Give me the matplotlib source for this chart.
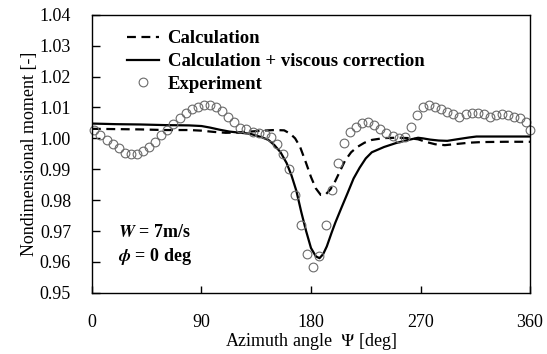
import numpy as np
import matplotlib
matplotlib.use("Agg")
import matplotlib.pyplot as plt
from matplotlib.ticker import FormatStrFormatter

# ---- data ----
exp_angle = [2, 7, 12, 17, 22, 27, 32, 37, 42, 47, 52, 57, 62, 67, 72, 77,
             82, 87, 92, 97, 102, 107, 112, 117, 122, 127, 132, 137, 142, 147,
             152, 157, 162, 167, 172, 177, 182, 187, 192, 197, 202, 207, 212,
             217, 222, 227, 232, 237, 242, 247, 252, 257, 262, 267, 272, 277,
             282, 287, 292, 297, 302, 307, 312, 317, 322, 327, 332, 337, 342,
             347, 352, 357, 360]
exp_moment = [1.0027, 1.0011, 0.9995, 0.9982, 0.9968, 0.9954, 0.9950, 0.9951,
              0.9960, 0.9973, 0.9989, 1.0011, 1.0027, 1.0046, 1.0065, 1.0081,
              1.0094, 1.0103, 1.0108, 1.0108, 1.0103, 1.0090, 1.0070, 1.0052,
              1.0035, 1.0030, 1.0022, 1.0017, 1.0013, 1.0004, 0.9982, 0.9950,
              0.9900, 0.9818, 0.9720, 0.9626, 0.9584, 0.9619, 0.9720, 0.9832,
              0.9921, 0.9986, 1.0022, 1.0038, 1.0050, 1.0053, 1.0044, 1.0030,
              1.0016, 1.0008, 1.0001, 1.0006, 1.0038, 1.0076, 1.0101, 1.0108,
              1.0103, 1.0095, 1.0087, 1.0079, 1.0068, 1.0079, 1.0083, 1.0081,
              1.0079, 1.0070, 1.0076, 1.0079, 1.0076, 1.0070, 1.0065, 1.0054,
              1.0027]

calc_angle = [0, 20, 40, 60, 80, 90, 100, 110, 120, 130, 140, 150, 158, 163,
              167, 171, 176, 180, 184, 188, 192, 196, 200, 204, 208, 213, 218,
              224, 230, 240, 250, 260, 268, 275, 282, 290, 300, 310, 320, 340,
              360]
calc_moment = [1.0031, 1.0030, 1.0029, 1.0027, 1.0027, 1.0025, 1.0021, 1.0018,
               1.0019, 1.0022, 1.0025, 1.0027, 1.0026, 1.0015, 1.0000, 0.9973,
               0.9920, 0.9875, 0.9838, 0.9817, 0.9818, 0.9835, 0.9862, 0.9895,
               0.9928, 0.9955, 0.9972, 0.9986, 0.9995, 1.0001, 1.0002, 1.0001,
               0.9997, 0.9988, 0.9981, 0.9978, 0.9982, 0.9986, 0.9988, 0.9989,
               0.9989]

visc_angle = [0, 20, 40, 60, 80, 90, 97, 105, 113, 120, 130, 140, 145, 150,
              155, 160, 164, 168, 172, 176, 180, 184, 187, 190, 193, 197, 200,
              205, 210, 215, 220, 225, 230, 240, 250, 260, 268, 272, 278, 285,
              292, 300, 310, 316, 340, 360]
visc_moment = [1.0048, 1.0046, 1.0045, 1.0043, 1.0042, 1.0040, 1.0035, 1.0028,
               1.0022, 1.0019, 1.0015, 1.0003, 0.9995, 0.9978, 0.9955, 0.9920,
               0.9880, 0.9830, 0.9762, 0.9700, 0.9645, 0.9618, 0.9612, 0.9625,
               0.9650, 0.9695, 0.9727, 0.9775, 0.9822, 0.9870, 0.9905, 0.9935,
               0.9955, 0.9972, 0.9985, 0.9995, 1.0002, 1.0000, 0.9996, 0.9993,
               0.9992, 0.9997, 1.0003, 1.0006, 1.0006, 1.0006]

x_ticks = [0, 90, 180, 270, 360]
y_ticks = [0.95, 0.96, 0.97, 0.98, 0.99, 1.00, 1.01, 1.02, 1.03, 1.04]

# ---- style ----
plt.rcParams["font.family"] = ["Liberation Serif", "DejaVu Serif"]
plt.rcParams["mathtext.fontset"] = "stix"

fig = plt.figure(figsize=(5.47, 3.54), dpi=100)
ax = fig.add_axes([0.168, 0.173, 0.801, 0.785])

ax.plot(calc_angle, calc_moment, color="black", linestyle=(0, (4, 2.5)),
        linewidth=1.6, label="Calculation")
ax.plot(visc_angle, visc_moment, color="black", linestyle="-",
        linewidth=1.6, label="Calculation + viscous correction")
ax.plot(exp_angle, exp_moment, linestyle="none", marker="o", markersize=6.3,
        markerfacecolor="none", markeredgecolor="#6a6a6a",
        markeredgewidth=0.8, label="Experiment", clip_on=False)

ax.set_xlim(0, 360)
ax.set_ylim(0.95, 1.04)
ax.set_xticks(x_ticks)
ax.set_yticks(y_ticks)
ax.yaxis.set_major_formatter(FormatStrFormatter("%.2f"))
ax.tick_params(axis="x", direction="in", length=5, width=1, pad=15,
               labelsize=13, top=False)
ax.tick_params(axis="y", direction="in", length=6, width=1, pad=15,
               labelsize=13, right=False)
for sp in ax.spines.values():
    sp.set_linewidth(1.0)

ax.set_xlabel(r"Azimuth angle  $\mathit{\Psi}$ [deg]", fontsize=13,
              labelpad=0)
ax.set_ylabel("Nondimensional moment [-]", fontsize=13, labelpad=1)

leg = ax.legend(loc="upper left", bbox_to_anchor=(0.055, 0.985),
                frameon=False, handlelength=1.7, handletextpad=0.45,
                labelspacing=0.3, borderaxespad=0.2,
                prop={"weight": "bold", "size": 13.5})

ax.text(0.06, 0.20, r"$\mathbfit{W}$ = 7m/s", transform=ax.transAxes,
        fontsize=13, fontweight="bold")
ax.text(0.06, 0.115, r"$\mathbfit{\phi}$ = 0 deg", transform=ax.transAxes,
        fontsize=13, fontweight="bold")

fig.savefig("out.png", dpi=100)
